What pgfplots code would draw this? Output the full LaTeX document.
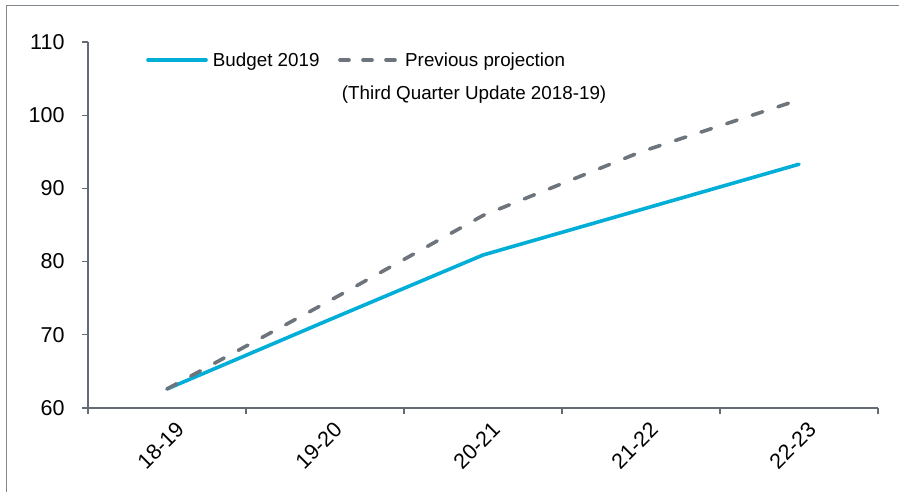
\documentclass[border=0pt]{standalone}
\usepackage{pgfplots}
\pgfplotsset{compat=1.18}
\usepackage{fontspec}
\setmainfont{Liberation Sans}
\definecolor{budget}{HTML}{00AED8}
\definecolor{prev}{HTML}{6D747B}
\definecolor{axisgray}{HTML}{646B73}
\definecolor{framegray}{HTML}{80878F}
\begin{document}
\begin{tikzpicture}[x=1pt,y=1pt]
\useasboundingbox (-88,-84) rectangle (811,408);
\draw[framegray, line width=1.3pt] (-81.5,-90) -- (-81.5,402.3) -- (820,402.3);
\begin{axis}[
  at={(0pt,0pt)}, anchor=south west,
  scale only axis, width=790pt, height=366pt,
  xmin=-0.5, xmax=4.5, ymin=60, ymax=110,
  axis x line*=bottom, axis y line*=left,
  axis line style={-, draw=axisgray, line width=1.5pt},
  tick align=outside, major tick length=6pt,
  tick style={draw=axisgray, line width=1.2pt},
  xtick={-0.5,0.5,1.5,2.5,3.5,4.5}, xticklabels={},
  extra x ticks={0,1,2,3,4},
  extra x tick labels={18-19,19-20,20-21,21-22,22-23},
  extra x tick style={major tick length=0pt,
    xticklabel style={rotate=45, anchor=east, font=\fontsize{21.5}{24}\selectfont, yshift=-22pt, xshift=0pt}},
  ytick={60,70,80,90,100,110},
  yticklabel style={font=\fontsize{21.5}{24}\selectfont, xshift=-14pt},
  /pgf/number format/assume math mode=true,
  clip=false,
]
\addplot[budget, line width=3.6pt, line join=round, line cap=round] coordinates {
  (0,62.6) (1,71.8) (2,80.9) (3,87.1) (4,93.3)};
\addplot[prev, line width=3.6pt, line cap=round, dash pattern=on 11pt off 16pt] coordinates {
  (0,62.6) (1,74.3) (2,86.3) (3,95.0) (4,102.1)};
\end{axis}
% legend
\draw[budget, line width=3.6pt, line cap=round] (60,348) -- (118,348);
\node[anchor=base west, inner sep=0pt, font=\fontsize{18.8}{22}\selectfont] at (124.7,341.3) {Budget 2019};
\draw[prev, line width=3.6pt, line cap=round, dash pattern=on 9pt off 14pt] (252,348) -- (310,348);
\node[anchor=base west, inner sep=0pt, font=\fontsize{18.8}{22}\selectfont] at (317,341.3) {Previous projection};
\node[anchor=base west, inner sep=0pt, font=\fontsize{18.8}{22}\selectfont] at (253.7,308) {(Third Quarter Update 2018-19)};
\end{tikzpicture}
\end{document}
